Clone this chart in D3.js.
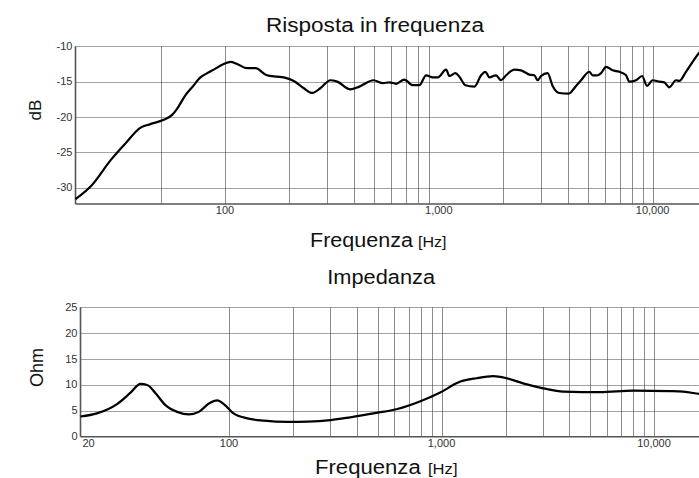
<!DOCTYPE html>
<html>
<head>
<meta charset="utf-8">
<script src="https://cdn.jsdelivr.net/npm/d3@7"></script>
<style>
  body { margin: 0; background: #fff; }
  svg { display: block; font-family: "Liberation Sans", Arial, sans-serif; }
</style>
</head>
<body>
<svg id="chart" width="699" height="478"></svg>
<script>
// risposta in frequenza
var respFreq = [20, 23.9, 29.2, 34.3, 40.3, 44.8, 51.7, 56.6, 59.8, 65.4, 70.2, 76.8, 82.6, 88.7,
  98.7, 106, 114, 127, 139, 157, 175, 188, 210, 233, 256, 280, 311, 335, 386, 425, 495, 547,
  588, 631, 690, 755, 811, 872, 936, 988, 1082, 1121, 1196, 1248, 1331, 1467, 1577, 1651,
  1724, 1853, 1955, 2064, 2256, 2424, 2651, 2798, 2900, 3008, 3228, 3406, 3662, 4048, 4384,
  4626, 5058, 5240, 5530, 5738, 6056, 6502, 6988, 7510, 7780, 8362, 8922, 9416, 10000,
  10750, 11340, 11970, 12860, 13330, 14320, 15380, 16410, 17800];
var respDb = [-31.6, -29.6, -26.1, -23.7, -21.5, -21.0, -20.4, -19.7, -18.8, -16.9, -15.8, -14.4,
  -13.8, -13.3, -12.5, -12.2, -12.5, -13.1, -13.1, -14.1, -14.3, -14.4, -14.9, -15.9, -16.6,
  -15.9, -14.8, -15.0, -16.1, -15.7, -14.8, -15.2, -15.1, -15.3, -14.7, -15.5, -15.5, -14.1,
  -14.4, -14.4, -13.3, -14.2, -13.8, -14.3, -15.5, -15.7, -14.1, -13.6, -14.4, -14.1, -14.8,
  -14.1, -13.3, -13.4, -14.0, -14.1, -14.8, -14.2, -13.8, -15.6, -16.6, -16.7, -15.6, -14.8,
  -13.6, -14.1, -14.1, -13.8, -12.9, -13.4, -13.6, -14.1, -15.0, -14.8, -14.2, -15.6, -14.8,
  -15.0, -15.1, -15.8, -14.8, -14.9, -13.6, -12.2, -11.0, -10.2];

// impedenza
var impFreq = [20, 23.9, 29.7, 34.4, 38.3, 41.2, 45.1, 50.2, 57, 64.7, 72.1, 80.4, 88, 94.5,
  105, 122, 146, 188, 234, 301, 372, 494, 613, 790, 981, 1219, 1460, 1749, 2022, 2421, 3008,
  3737, 5561, 7980, 11880, 13730, 16460, 20000];
var impOhm = [3.9, 4.5, 6.3, 8.5, 10.2, 10.0, 8.4, 6.1, 4.8, 4.3, 4.8, 6.4, 7.0, 6.3, 4.5, 3.55,
  3.1, 2.85, 2.9, 3.2, 3.75, 4.6, 5.3, 6.8, 8.5, 10.6, 11.3, 11.7, 11.3, 10.3, 9.35, 8.7, 8.6,
  8.9, 8.8, 8.7, 8.25, 7.9];

var respDbTicks = [-10, -15, -20, -25, -30];
var impOhmTicks = [0, 5, 10, 15, 20, 25];
var respFreqTicks = [100, 1000, 10000];
var impFreqTicks = [20, 100, 1000, 10000];
var respGridFreqs = [50, 100, 200, 300, 400, 500, 600, 700, 800, 900,
  2000, 3000, 4000, 5000, 6000, 7000, 8000, 9000, 10000];
var impGridFreqs = [100, 200, 300, 400, 500, 600, 700, 800, 900, 1000,
  2000, 3000, 4000, 5000, 6000, 7000, 8000, 9000, 10000];

var svg = d3.select('#chart');
var fmt = d3.format(',');

function drawPanel(p) {
  var g = svg.append('g');
  var x = p.x, y = p.y;
  var x0 = x.range()[0], x1 = x.range()[1];
  var yb = y.range()[0], yt = y.range()[1];

  // vertical grid
  g.selectAll('line.vg').data(p.grid).enter().append('line')
    .attr('class', 'vg')
    .attr('x1', function(d) { return Math.round(x(d)) + 0.5; })
    .attr('x2', function(d) { return Math.round(x(d)) + 0.5; })
    .attr('y1', yt).attr('y2', yb)
    .attr('stroke', '#8c8c8c').attr('stroke-width', 1);

  // horizontal dotted grid
  g.selectAll('line.hg').data(p.yTicks.filter(function(d) { return d !== p.yBase; }))
    .enter().append('line')
    .attr('class', 'hg')
    .attr('x1', x0).attr('x2', x1)
    .attr('y1', function(d) { return Math.round(y(d)) + 0.5; })
    .attr('y2', function(d) { return Math.round(y(d)) + 0.5; })
    .attr('stroke', '#444').attr('stroke-width', 1)
    .attr('stroke-dasharray', '1,1');

  // axes lines
  g.append('line').attr('x1', x0).attr('x2', x1).attr('y1', yb).attr('y2', yb)
    .attr('stroke', '#555').attr('stroke-width', 1.6);
  g.append('line').attr('x1', x0).attr('x2', x0).attr('y1', yt).attr('y2', yb)
    .attr('stroke', '#555').attr('stroke-width', 1.6);

  // y tick labels
  g.selectAll('text.yt').data(p.yTicks).enter().append('text')
    .attr('class', 'yt')
    .attr('x', x0 - 3)
    .attr('y', function(d) { return y(d) + 3.5; })
    .attr('text-anchor', 'end')
    .attr('font-size', 11)
    .attr('fill', '#333')
    .text(function(d) { return d; });

  // x tick labels
  g.selectAll('text.xt').data(p.xTicks).enter().append('text')
    .attr('class', 'xt')
    .attr('x', function(d) { return d === x.domain()[0] ? x(d) + 2 : x(d); })
    .attr('y', yb + 10)
    .attr('text-anchor', function(d) { return d === x.domain()[0] ? 'start' : 'middle'; })
    .attr('font-size', 11)
    .attr('fill', '#333')
    .text(function(d) { return fmt(d); });

  // curve
  var line = d3.line()
    .x(function(d) { return x(d[0]); })
    .y(function(d) { return y(d[1]); })
    .curve(d3.curveMonotoneX);
  g.append('path')
    .datum(d3.zip(p.freq, p.vals))
    .attr('d', line)
    .attr('fill', 'none')
    .attr('stroke', '#000')
    .attr('stroke-width', 2.2)
    .attr('stroke-linejoin', 'round');
}

function label(txt, px, py, size, len, rot) {
  var t = svg.append('text')
    .attr('x', px).attr('y', py)
    .attr('font-size', size)
    .attr('fill', '#111')
    .text(txt);
  if (len) t.attr('textLength', len).attr('lengthAdjust', 'spacingAndGlyphs');
  if (rot) t.attr('transform', 'rotate(-90,' + px + ',' + py + ')').attr('text-anchor', 'middle');
  return t;
}

drawPanel({
  x: d3.scaleLog().domain([20, 20000]).range([75.5, 717]),
  y: d3.scaleLinear().domain([-32.3, -10]).range([204, 46.3]),
  grid: respGridFreqs,
  yTicks: respDbTicks,
  yBase: null,
  xTicks: respFreqTicks,
  freq: respFreq,
  vals: respDb
});

drawPanel({
  x: d3.scaleLog().domain([20, 20000]).range([80.5, 718]),
  y: d3.scaleLinear().domain([0, 25]).range([436.7, 307.3]),
  grid: impGridFreqs,
  yTicks: impOhmTicks,
  yBase: 0,
  xTicks: impFreqTicks,
  freq: impFreq,
  vals: impOhm
});

// titoli ed etichette
label('Risposta in frequenza', 266, 31.7, 20, 218);
label('Frequenza', 310, 246.7, 20, 103);
label('[Hz]', 418, 246.7, 15, 28.5);
label('dB', 41, 110, 17, 0, true);
label('Impedanza', 327.3, 284.3, 20, 107.7);
label('Frequenza', 315, 474, 20, 105.7);
label('[Hz]', 428, 474, 15, 29.5);
label('Ohm', 43, 367.5, 18, 0, true);
</script>
</body>
</html>
